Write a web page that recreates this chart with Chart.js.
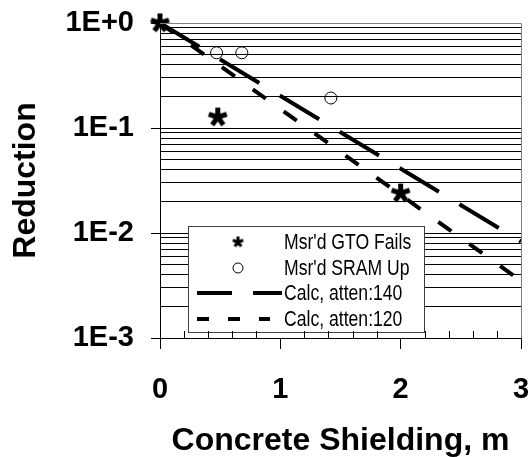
<!DOCTYPE html>
<html>
<head>
<meta charset="utf-8">
<script src="https://cdn.jsdelivr.net/npm/chart.js@4"></script>
<style>
html, body { margin: 0; padding: 0; background: #fff; }
</style>
</head>
<body>
<canvas id="chart" width="532" height="457"></canvas>
<script>
const gtoX = [0, 0.48, 2.0];
const gtoY = [1.0, 0.127, 0.024];
const sramX = [0.47, 0.68, 1.42];
const sramY = [0.52, 0.52, 0.193];
// calculated attenuation lines (straight on log axis, end points)
const calcX = [0, 3];
const calc140Y = [1.0, 0.0083];
const calc120Y = [1.0, 0.0035];

const yMajorValues = [0.001, 0.01, 0.1, 1];
const yTickLabels = ['1E-3', '1E-2', '1E-1', '1E+0'];
const legendLabels = ["Msr'd GTO Fails", "Msr'd SRAM Up", 'Calc, atten:140', 'Calc, atten:120'];

const FONT = "'Liberation Sans', Arial, sans-serif";

// grid values 1..9 x each decade
const yGridValues = [];
yMajorValues.forEach((m, i) => {
    if (i === yMajorValues.length - 1) { yGridValues.push(m); return; }
    for (let k = 1; k < 10; k++) yGridValues.push(m * k);
});

function isMajor(v) {
    return yMajorValues.findIndex(m => Math.abs(m - v) / m < 1e-6);
}

function makeStar(size, lw) {
    const c = document.createElement('canvas');
    c.width = size; c.height = size;
    const g = c.getContext('2d');
    const r = size / 2;
    g.strokeStyle = '#000';
    g.lineWidth = lw;
    g.beginPath();
    for (let i = 0; i < 5; i++) {
        const a = -Math.PI / 2 + i * 2 * Math.PI / 5;
        g.moveTo(r, r);
        g.lineTo(r + Math.cos(a) * (r - 1), r + Math.sin(a) * (r - 1));
    }
    g.stroke();
    return c;
}

const starBig = makeStar(21, 5);
const starSmall = makeStar(13, 3);

const toPoints = (xs, ys) => xs.map((x, i) => ({ x: x, y: ys[i] }));

const frameAndLegend = {
    id: 'frameAndLegend',
    afterDatasetsDraw(chart) {
        const ctx = chart.ctx;
        const a = chart.chartArea;
        ctx.save();
        // gray top / right frame
        ctx.strokeStyle = '#808080';
        ctx.lineWidth = 1;
        ctx.beginPath();
        ctx.moveTo(a.left, a.top + 0.5);
        ctx.lineTo(a.right + 0.5, a.top + 0.5);
        ctx.lineTo(a.right + 0.5, a.bottom);
        ctx.stroke();
        ctx.restore();
    },
    afterDraw(chart) {
        const ctx = chart.ctx;
        const a = chart.chartArea;
        const xs = chart.scales.x;
        ctx.save();
        // legend box
        const bx = 188, by = 226, bw = 236, bh = 106;
        ctx.fillStyle = '#fff';
        ctx.fillRect(bx, by, bw, bh);
        ctx.strokeStyle = '#404040';
        ctx.lineWidth = 1;
        ctx.strokeRect(bx + 0.5, by + 0.5, bw, bh);

        const rows = [242, 268, 293, 319];
        ctx.drawImage(starSmall, 238 - 6.5, rows[0] - 6.5);
        ctx.beginPath();
        ctx.arc(238, rows[1], 5, 0, Math.PI * 2);
        ctx.strokeStyle = '#000';
        ctx.stroke();

        ctx.lineWidth = 4;
        ctx.setLineDash([35, 21]);
        ctx.beginPath();
        ctx.moveTo(197, rows[2]);
        ctx.lineTo(282, rows[2]);
        ctx.stroke();
        ctx.setLineDash([12, 19]);
        ctx.beginPath();
        ctx.moveTo(197, rows[3]);
        ctx.lineTo(270, rows[3]);
        ctx.stroke();
        ctx.setLineDash([]);

        ctx.fillStyle = '#000';
        ctx.font = '22px ' + FONT;
        ctx.textBaseline = 'middle';
        legendLabels.forEach((t, i) => {
            ctx.save();
            ctx.translate(284, rows[i] + 1);
            ctx.scale(0.8, 1);
            ctx.fillText(t, 0, 0);
            ctx.restore();
        });

        // minor x ticks pointing inward
        ctx.strokeStyle = '#000';
        ctx.lineWidth = 1;
        ctx.beginPath();
        for (let k = 1; k < 15; k++) {
            if (k % 5 === 0) continue;
            const px = Math.round(xs.getPixelForValue(k * 0.2)) + 0.5;
            ctx.moveTo(px, a.bottom);
            ctx.lineTo(px, a.bottom - 7);
        }
        ctx.stroke();
        ctx.restore();
    }
};

new Chart(document.getElementById('chart').getContext('2d'), {
    type: 'scatter',
    data: {
        datasets: [
            {
                label: legendLabels[0],
                data: toPoints(gtoX, gtoY),
                pointStyle: starBig,
                pointRadius: 10,
                clip: false
            },
            {
                label: legendLabels[1],
                data: toPoints(sramX, sramY),
                pointStyle: 'circle',
                pointRadius: 6,
                borderColor: '#000',
                borderWidth: 1,
                backgroundColor: 'rgba(0,0,0,0)',
                clip: false
            },
            {
                label: legendLabels[2],
                data: toPoints(calcX, calc140Y),
                showLine: true,
                borderColor: '#000',
                borderWidth: 4,
                borderDash: [46, 24],
                pointRadius: 0,
                clip: false
            },
            {
                label: legendLabels[3],
                data: toPoints(calcX, calc120Y),
                showLine: true,
                borderColor: '#000',
                borderWidth: 4,
                borderDash: [16, 22],
                pointRadius: 0,
                clip: false
            }
        ]
    },
    options: {
        responsive: false,
        animation: false,
        devicePixelRatio: 1,
        layout: { padding: { top: 23, right: 11, left: 0, bottom: 0 } },
        plugins: {
            legend: { display: false },
            tooltip: { enabled: false }
        },
        scales: {
            x: {
                type: 'linear',
                min: 0,
                max: 3,
                ticks: {
                    stepSize: 1,
                    color: '#000',
                    padding: 26,
                    font: { family: FONT, size: 29, weight: 'bold', lineHeight: 1 }
                },
                grid: { drawOnChartArea: false, tickLength: 11, color: '#000' },
                border: { color: '#000', width: 1 },
                title: {
                    display: true,
                    text: 'Concrete Shielding, m',
                    color: '#000',
                    font: { family: FONT, size: 32, weight: 'bold', lineHeight: 1 },
                    padding: { top: 0, bottom: 0 }
                },
                afterFit: s => {
                    s.height = 119;
                    s.paddingLeft = 0;
                    s.paddingRight = 0;
                }
            },
            y: {
                type: 'logarithmic',
                min: 0.001,
                max: 1,
                afterBuildTicks: s => { s.ticks = yGridValues.map(v => ({ value: v })); },
                ticks: {
                    autoSkip: false,
                    color: '#000',
                    padding: 17,
                    font: { family: FONT, size: 29, weight: 'bold', lineHeight: 1 },
                    callback: v => {
                        const i = isMajor(v);
                        return i >= 0 ? yTickLabels[i] : '';
                    }
                },
                grid: {
                    color: c => (c.tick && Math.abs(c.tick.value - 1) < 1e-9) ? '#808080' : '#000',
                    lineWidth: 1,
                    tickLength: 9,
                    tickColor: c => (c.tick && isMajor(c.tick.value) >= 0) ? '#000' : 'rgba(0,0,0,0)'
                },
                border: { color: '#000', width: 1 },
                title: {
                    display: true,
                    text: 'Reduction',
                    color: '#000',
                    font: { family: FONT, size: 32, weight: 'bold', lineHeight: 1 },
                    padding: { top: 10, bottom: 0 }
                },
                afterFit: s => {
                    s.width = 160;
                    s.paddingTop = 0;
                    s.paddingBottom = 0;
                }
            }
        }
    },
    plugins: [frameAndLegend]
});
</script>
</body>
</html>
